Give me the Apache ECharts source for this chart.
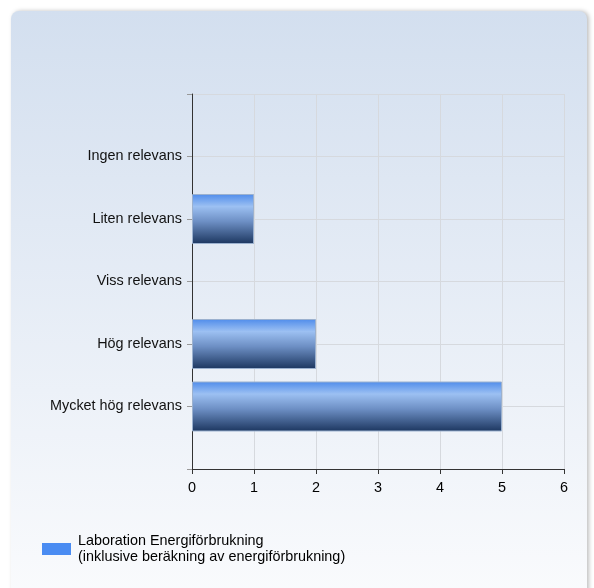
<!DOCTYPE html>
<html><head><meta charset="utf-8">
<script src="https://cdn.jsdelivr.net/npm/echarts@6/dist/echarts.min.js"></script>
<style>html,body{margin:0;padding:0;background:#fff}#c{width:594px;height:588px}</style>
</head><body><div id="c"></div>
<script>
const categories = ['Ingen relevans', 'Liten relevans', 'Viss relevans', 'Hög relevans', 'Mycket hög relevans'];
const values = [0, 1, 0, 2, 5];
const seriesName = 'Laboration Energiförbrukning\n(inklusive beräkning av energiförbrukning)';
const xTicks = [0, 1, 2, 3, 4, 5, 6];

const yData = [''].concat(categories, ['']);
const yValues = [null].concat(values.map(v => v === 0 ? {value: v, itemStyle: {borderWidth: 0, opacity: 0}} : v), [null]);
const font = 'Arial, "Liberation Sans", sans-serif';
const fs = 14.4;

const chart = echarts.init(document.getElementById('c'), null, {renderer: 'canvas'});
chart.setOption({
  animation: false,
  graphic: [{
    type: 'rect', z: -10, silent: true,
    shape: {x: 11, y: 11, width: 576, height: 590, r: 8},
    style: {
      fill: new echarts.graphic.LinearGradient(0, 0, 0, 1, [
        {offset: 0, color: '#d3dfef'},
        {offset: 1, color: '#fafbfd'}
      ]),
      shadowBlur: 4, shadowColor: 'rgba(0,0,0,0.25)', shadowOffsetX: 2, shadowOffsetY: 0
    }
  }],
  grid: {left: 192, top: 94, width: 372, height: 375, containLabel: false},
  xAxis: {
    type: 'value', min: xTicks[0], max: xTicks[xTicks.length - 1], interval: 1,
    axisLine: {show: true, lineStyle: {color: '#333', width: 1}},
    axisTick: {show: true, length: 5, lineStyle: {color: '#333'}},
    axisLabel: {color: '#000', fontSize: fs, fontFamily: font, margin: 12},
    splitLine: {show: true, lineStyle: {color: '#d6d9de', width: 1}}
  },
  yAxis: {
    type: 'category', data: yData, inverse: true, boundaryGap: false,
    axisLine: {show: true, lineStyle: {color: '#333', width: 1}},
    axisTick: {show: true, length: 5, lineStyle: {color: '#999'}},
    axisLabel: {color: '#111', fontSize: fs, fontFamily: font, margin: 10, interval: 0},
    splitLine: {show: true, lineStyle: {color: '#d6d9de', width: 1}}
  },
  legend: {
    show: true, left: 37, top: 528, orient: 'vertical', padding: 5,
    icon: 'rect', itemWidth: 29, itemHeight: 12, itemGap: 6,
    textStyle: {color: '#000', fontSize: fs, fontFamily: font, lineHeight: 16, padding: [0, 0, 0, 2]},
    data: [{name: seriesName, itemStyle: {color: '#4a8cf2', borderWidth: 0}}]
  },
  series: [{
    type: 'bar', name: seriesName, data: yValues, barWidth: 50,
    itemStyle: {
      color: new echarts.graphic.LinearGradient(0, 0, 0, 1, [
        {offset: 0, color: '#4f8ceb'},
        {offset: 0.25, color: '#9cc0f2'},
        {offset: 0.55, color: '#6d8fc4'},
        {offset: 1, color: '#1c365f'}
      ]),
      borderColor: '#9bb1cf', borderWidth: 1
    }
  }]
});
</script></body></html>
